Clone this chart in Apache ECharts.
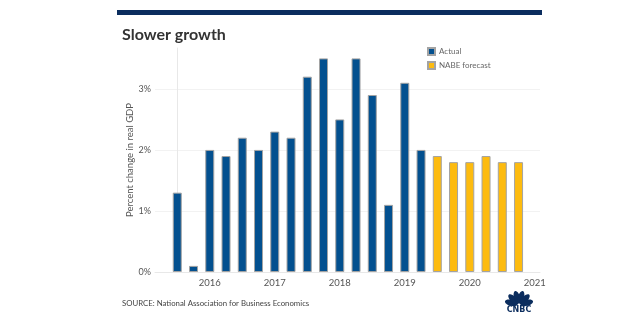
<!DOCTYPE html>
<html>
<head>
<meta charset="utf-8">
<title>Slower growth</title>
<script src="https://cdn.jsdelivr.net/npm/echarts@6/dist/echarts.min.js"></script>
<style>
  html, body { margin: 0; padding: 0; background: #fff; }
  #chart { width: 640px; height: 328px; }
</style>
</head>
<body>
<div id="chart"></div>
<script>
// Quarterly real GDP growth, annualized (%)
const quarters = [
  '2015 Q3', '2015 Q4',
  '2016 Q1', '2016 Q2', '2016 Q3', '2016 Q4',
  '2017 Q1', '2017 Q2', '2017 Q3', '2017 Q4',
  '2018 Q1', '2018 Q2', '2018 Q3', '2018 Q4',
  '2019 Q1', '2019 Q2', '2019 Q3', '2019 Q4',
  '2020 Q1', '2020 Q2', '2020 Q3', '2020 Q4'
];
const actual = [1.3, 0.1, 2.0, 1.9, 2.2, 2.0, 2.3, 2.2, 3.2, 3.5, 2.5, 3.5, 2.9, 1.1, 3.1, 2.0];
const forecast = [1.9, 1.8, 1.8, 1.9, 1.8, 1.8];
const yearTicks = [2016, 2017, 2018, 2019, 2020, 2021];
const percentTicks = [0, 1, 2, 3];

// x position of each bar = its quarter index
const firstYear = 2015, firstQuarter = 3;
const quarterIndex = (year, q) => (year - firstYear) * 4 + (q - firstQuarter);
const actualData = actual.map((v, i) => [i, v]);
const forecastData = forecast.map((v, i) => [actual.length + i, v]);
const yearTickPos = yearTicks.map(y => quarterIndex(y, 1));

const FONT = 'Lato, "Open Sans", sans-serif';
const NAVY = '#0B2D5E';

// CNBC peacock mark
const logoParts = [];
const baseX = 519, baseY = 305;
[-75, -45, -15, 15, 45, 75].forEach(deg => {
  const a = deg * Math.PI / 180;
  logoParts.push({
    type: 'ellipse',
    x: baseX + 8 * Math.sin(a),
    y: baseY - 8 * Math.cos(a),
    rotation: -a,
    shape: { cx: 0, cy: 0, rx: 3, ry: 6.5 },
    style: { fill: NAVY },
    silent: true
  });
});
logoParts.push({
  type: 'text', x: baseX, y: 305.5,
  style: { text: 'CNBC', fill: NAVY, font: 'bold 8px "DejaVu Sans", sans-serif', align: 'center', verticalAlign: 'top' },
  silent: true
});

const chart = echarts.init(document.getElementById('chart'), null, { renderer: 'canvas' });
chart.setOption({
  backgroundColor: '#ffffff',
  animation: false,
  textStyle: { fontFamily: FONT },
  title: {
    text: 'Slower growth',
    left: 117, top: 22,
    textStyle: { fontSize: 16, fontWeight: 'bold', color: '#333', fontFamily: FONT }
  },
  legend: {
    orient: 'vertical',
    left: 422, top: 42,
    itemWidth: 7, itemHeight: 7, itemGap: 5,
    icon: 'rect',
    textStyle: { fontSize: 8, color: '#666', fontFamily: FONT, padding: [0, 0, 0, -1] },
    data: ['Actual', 'NABE forecast']
  },
  grid: { left: 155, right: 100, top: 48, bottom: 56, containLabel: false },
  xAxis: {
    type: 'value',
    min: -1.37, max: 22.32,
    splitLine: { show: false },
    axisTick: { show: false },
    axisLine: { show: true, lineStyle: { color: '#e8e8e8', width: 1 } },
    axisLabel: {
      customValues: yearTickPos,
      formatter: v => String(yearTicks[yearTickPos.indexOf(v)] ?? ''),
      fontSize: 9.5, color: '#555', margin: 6, fontFamily: FONT
    }
  },
  yAxis: {
    type: 'value',
    min: percentTicks[0], max: 3.67, interval: 1,
    name: 'Percent change in real GDP',
    nameLocation: 'middle', nameGap: 20, nameMoveOverlap: false,
    nameTextStyle: { fontSize: 9.5, color: '#555', fontFamily: FONT },
    axisLine: { show: true, lineStyle: { color: '#e8e8e8', width: 1 } },
    axisTick: { show: false },
    splitLine: { show: true, showMaxLine: false, lineStyle: { color: '#f2f2f2', width: 1 } },
    axisLabel: {
      showMaxLabel: false,
      formatter: v => percentTicks.includes(v) ? v + '%' : '',
      fontSize: 9, color: '#555', margin: 4, fontFamily: FONT
    }
  },
  series: [
    {
      name: 'Actual', type: 'bar', data: actualData,
      barWidth: 9, barGap: '-100%',
      itemStyle: { color: '#03508F', borderColor: '#a3a3a3', borderWidth: 1 }
    },
    {
      name: 'NABE forecast', type: 'bar', data: forecastData,
      barWidth: 9, barGap: '-100%',
      itemStyle: { color: '#FDBB0F', borderColor: '#a3a3a3', borderWidth: 1 }
    }
  ],
  graphic: [
    { type: 'rect', left: 117, top: 10, shape: { width: 425, height: 5 }, style: { fill: NAVY }, silent: true },
    {
      type: 'text', left: 122, top: 299,
      style: { text: 'SOURCE: National Association for Business Economics', fill: '#444', font: '7.8px ' + FONT },
      silent: true
    },
    { type: 'group', children: logoParts }
  ]
});
</script>
</body>
</html>
